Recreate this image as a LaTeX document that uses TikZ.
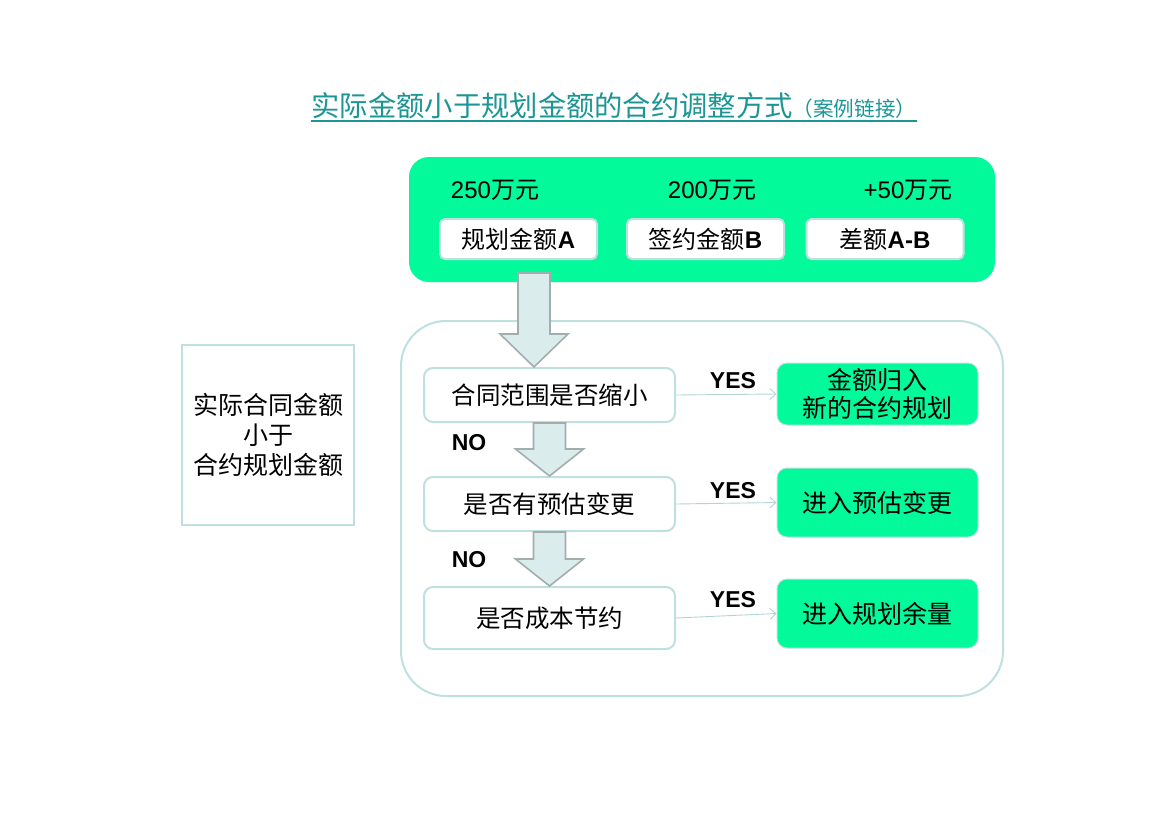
\documentclass[tikz,border=0pt]{standalone}
\usepackage{fontspec}
\setmainfont{Liberation Sans}
\newfontfamily\cjk{Noto Sans CJK SC}
\usetikzlibrary{arrows.meta,calc}
\definecolor{sgreen}{RGB}{2,250,154}
\definecolor{tealtitle}{RGB}{28,150,148}
\definecolor{bord}{RGB}{192,224,224}
\definecolor{afill}{RGB}{219,236,236}
\definecolor{aline}{RGB}{162,174,174}
\definecolor{thinline}{RGB}{180,212,212}
\newcommand\fs[1]{\fontsize{#1}{#1}\selectfont}
\newcommand\bigarrow[3]{%
  \draw[bigarr] let \p1=(#1), \p2=(#2) in
    (\x1-16pt,\y1) -- (\x1+16pt,\y1) -- (\x1+16pt,\y2+#3) -- (\x1+34pt,\y2+#3)
    -- (\x1,\y2) -- (\x1-34pt,\y2+#3) -- (\x1-16pt,\y2+#3) -- cycle;}
\begin{document}
\begin{tikzpicture}[x=1pt,y=-1pt,
  topbox/.style={fill=sgreen, rounded corners=20pt, minimum width=586pt, minimum height=125pt, inner sep=0pt},
  amt/.style={font=\fs{24}, inner sep=0pt},
  wbox/.style={draw=bord, line width=2pt, fill=white, rounded corners=5pt, minimum width=157pt, minimum height=40pt, inner sep=0pt, font=\fs{24}},
  qbox/.style={draw=bord, line width=2pt, fill=white, rounded corners=9pt, minimum width=251pt, inner sep=0pt, font=\cjk\fs{24.5}},
  rbox/.style={draw=bord, line width=1pt, fill=sgreen, rounded corners=10pt, minimum width=201pt, inner sep=0pt, font=\cjk\fontsize{25}{28}\selectfont, align=center},
  lbl/.style={font=\bfseries\fs{23}, inner sep=0pt},
  bigarr/.style={fill=afill, draw=aline, line width=1.6pt, line join=miter},
  thinarr/.style={draw=thinline, line width=0.9pt, -{Straight Barb[length=6pt,width=11pt]}}
]
\useasboundingbox[fill=white] (0,0) rectangle (1170,827);

% title
\node[anchor=base, inner sep=0pt, text=tealtitle] (title) at (614,116)
  {{\cjk\fs{28.3}实际金额小于规划金额的合约调整方式}{\cjk\fs{20.6}（案例链接）}};
\draw[tealtitle, line width=1.3pt] ($(title.base west)+(0,5)$) -- ($(title.base east)+(0,5)$);

% top green box
\node[topbox] (top) at (702,219.5) {};
\node[amt] (a1) at (495,190) {250{\cjk 万元}};
\node[amt] (a2) at (712,190) {200{\cjk 万元}};
\node[amt] (a3) at (908,190) {+50{\cjk 万元}};
\node[wbox] (w1) at (518.5,239) {{\cjk 规划金额}\textbf{A}};
\node[wbox] (w2) at (705.5,239) {{\cjk 签约金额}\textbf{B}};
\node[wbox] (w3) at (885,239) {{\cjk 差额}\textbf{A-B}};

% container
\node[draw=bord, line width=2pt, rounded corners=45pt, minimum width=602pt, minimum height=375pt, inner sep=0pt] (cont) at (702,508.5) {};

% left box
\node[draw=bord, line width=2pt, minimum width=172pt, minimum height=180pt, inner sep=0pt,
  font=\cjk\fontsize{25}{30}\selectfont, align=center] (left) at (268,435)
  {实际合同金额\\小于\\合约规划金额};

% question boxes
\node[qbox, minimum height=54pt] (q1) at (549.5,395) {合同范围是否缩小};
\node[qbox, minimum height=54pt] (q2) at (549.5,504) {是否有预估变更};
\node[qbox, minimum height=62pt] (q3) at (549.5,618) {是否成本节约};

% result boxes
\node[rbox, minimum height=62pt] (r1) at (877.5,394) {金额归入\\新的合约规划};
\node[rbox, minimum height=69pt] (r2) at (877.5,502.5) {进入预估变更};
\node[rbox, minimum height=69pt] (r3) at (877.5,613.5) {进入规划余量};

% big arrows
\coordinate (s1) at (534,273);
\coordinate (t1) at (534,367);
\bigarrow{s1}{t1}{33}
\bigarrow{q1.south}{q2.north}{27}
\bigarrow{q2.south}{q3.north}{27}

% labels
\node[lbl] (no1) at (469,443) {NO};
\node[lbl] (no2) at (469,560) {NO};
\node[lbl] (y1) at (733,381) {YES};
\node[lbl] (y2) at (733,491) {YES};
\node[lbl] (y3) at (733,600) {YES};

% thin arrows
\draw[thinarr] (q1.east) -- (r1.west);
\draw[thinarr] (q2.east) -- (r2.west);
\draw[thinarr] (q3.east) -- (r3.west);
\end{tikzpicture}
\end{document}
